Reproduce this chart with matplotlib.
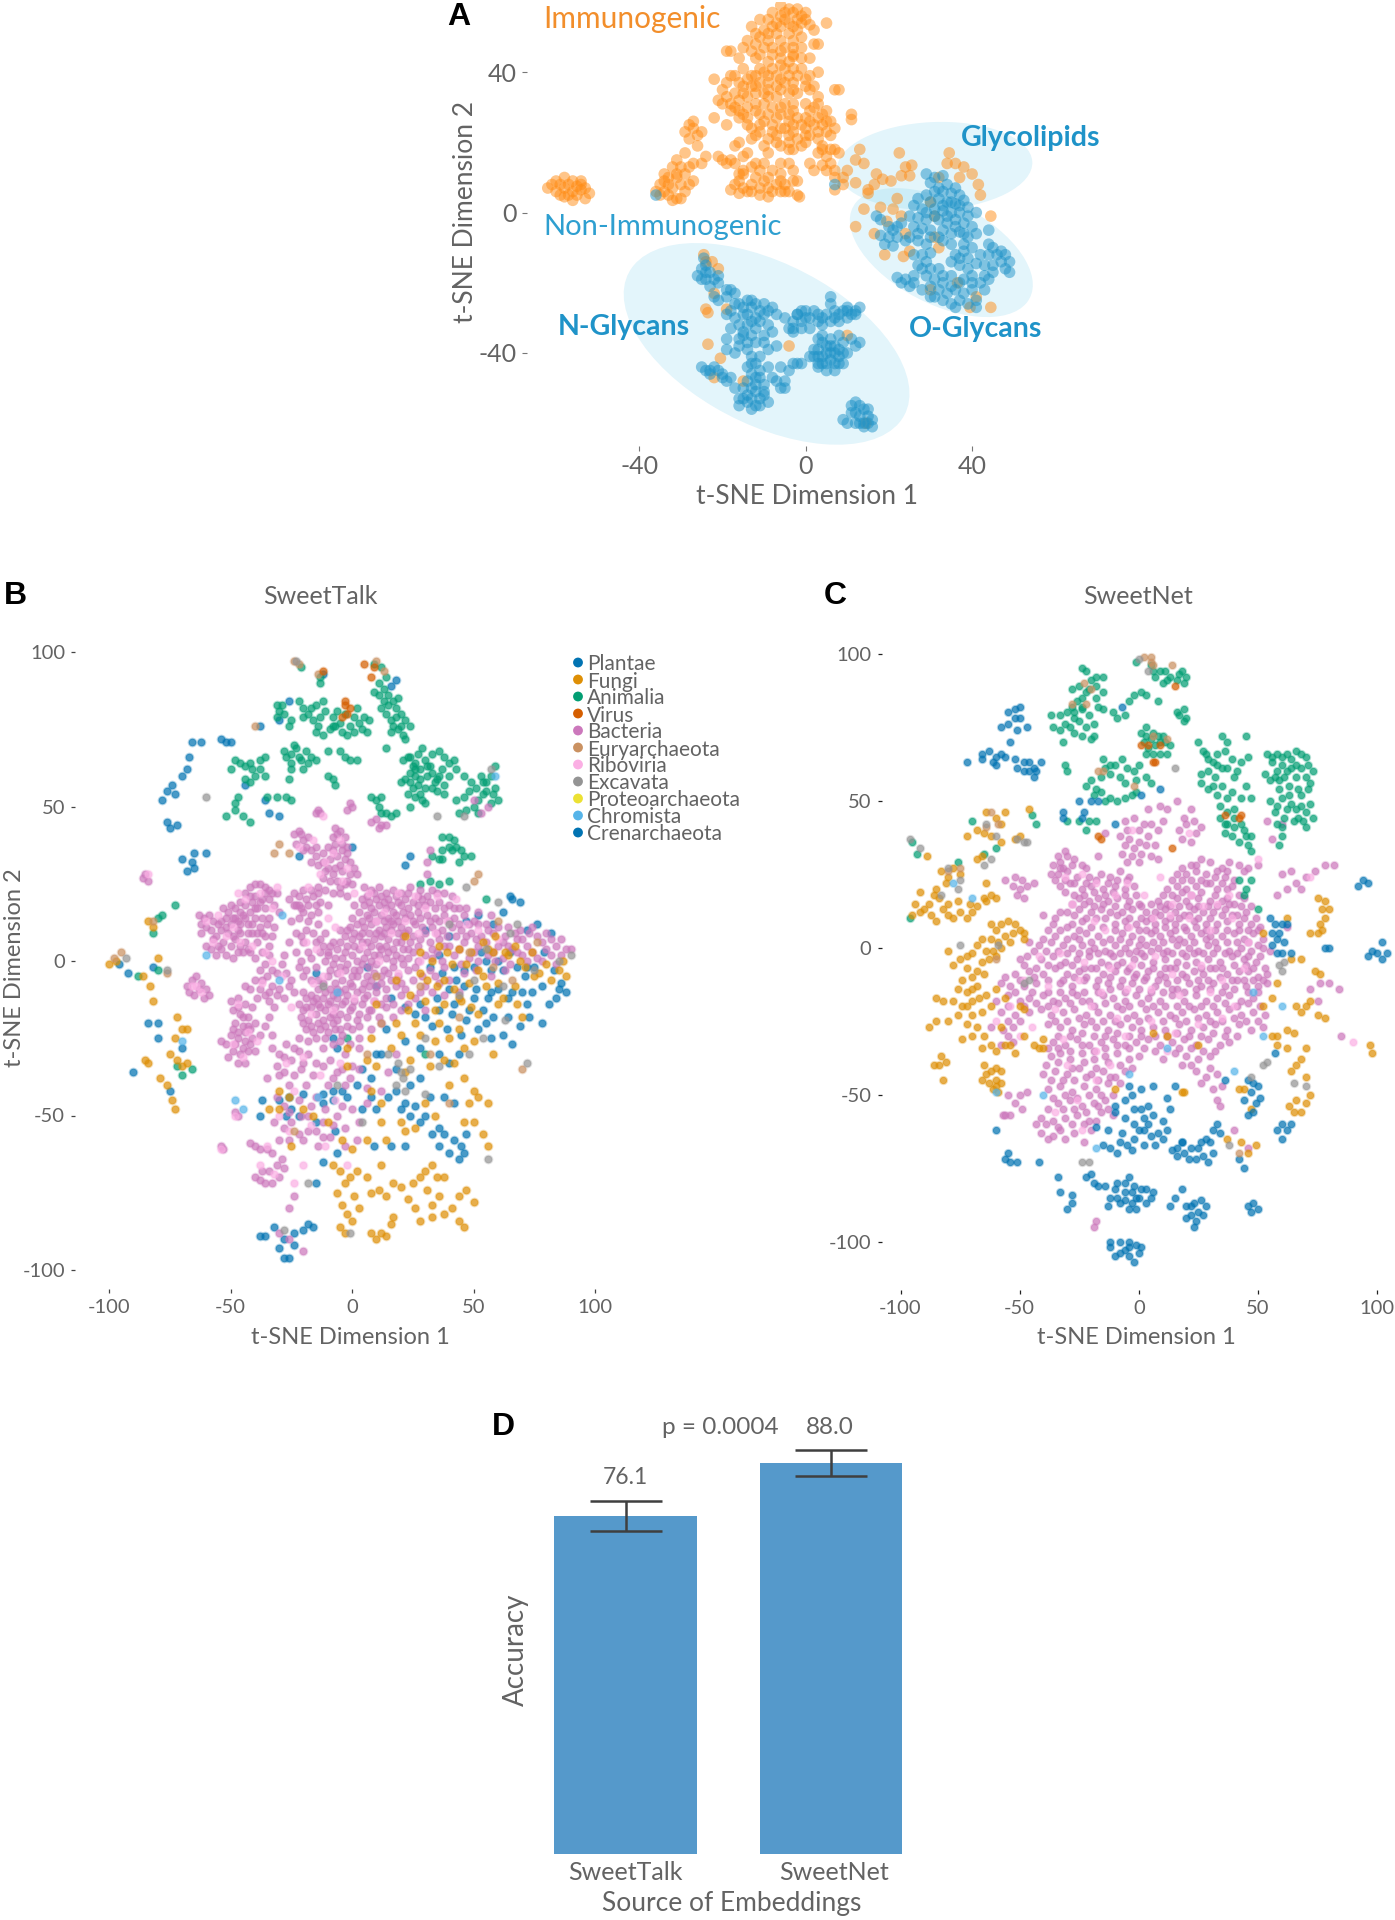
import matplotlib
matplotlib.use("Agg")
import matplotlib.pyplot as plt
from matplotlib.colors import to_rgba
from matplotlib.patches import Ellipse

W, H = 1395, 1920
plt.rcParams["font.family"] = ["Lato", "DejaVu Sans"]
plt.rcParams["axes.unicode_minus"] = False
GREY = "#636363"

# panel A
immuno_a = [(-62,7),(-60,9),(-60,6),(-58,10),(-58,7),(-58,4.5),(-56,9),(-56,6),(-56,3.5),(-54,9),(-54,6.5),(-53,4),(-52,5.5),(-59,5),(-55,7.5),(-57,8),
(-36,6),(-35,8),(-34,11),(-33,5),(-33,8),(-32,13),(-32,3.5),(-31,10),(-31,15),(-30,13),(-30,4),(-29,17),(-29,6),(-28,13),(-28,21),(-27,24),(-29,23),(-28,25),(-27,14),(-26,19),(-26,22),(-27,26),(-25,23),(-25,14),(-29,11),(-31,4),(-34,9),
(-6,59),(-8,57),(-4,58),(-3,57),(-1,56),(0,57),(-6,56),(-2,55),(-5,55),(-9,55),(-8,53),(-6,53),(-3,53),(-1,54),(0,55),(1,53.5),(-10,52),(-7,51),(-4,51),(-2,52),(2,52),(5,54),(-11,50),(-9,49),(-6,49),(-3,49),(-1,50),(-12,48),(-14,49),(-10,47),(-8,47),(-5,47),(-3,47),(-1,47),(2,48),(-13,46),(-11,45),(-8,45),(-6,44),(-12,44),(-3,44.5),(-1,44),(1,44),(-18,46),(-19,46),(3,48),
(-22,38),(-17,39),(-15,41),(-18,39),(-14,38),(-11,41),(-10,40),(-8,41),(-7,39),(-5,41),(-3,41),(-1,41),(3,40),(-20,35),(-19,33),(-17,34),(-15,36),(-13,36),(-11,37),(-9,37),(-7,36),(-5,37),(-3,37),(0,38),(2,36),(-21,32),(-18,31),(-16,32),(-14,33),(-12,34),(-10,34),(-7,33),(-4,34),(-2,34),(1,35),(3,33),(7,35),(8,35),(-18,29),(-16,29),(-14,30),(-12,31),(-10,31),(-8,30),(-5,31),(-3,31),(0,31),(2,30),(4,28),(-16,27),(-14,27),(-11,28),(-9,28),(-6,28),(-4,28),(-2,27),(0,27),(3,27),(5,29),(11,28),(11,26.5),(-22,27),(-19,25),(-13,24),(-11,25),(-8,25),(-6,24),(-3,25),(0,24),(2,25),(4,25),(6,26),(7,24),(-12,22),(-9,21),(-7,22),(-4,22),(-2,21),(1,22),(3,21),(5,23),(6,22),(-16,20),(-17,19),(-10,19),(-6,19),(-3,18),(0,20),(4,19),(-4,18),
(-15,16),(-14,17),(-9,17),(-10,14),(-11,12),(-13,13),(-15,12),(-16,11),(-8,12),(-6,14),(-4,14),(-3,12),(-6,11),(-9,10),(-12,10),(-16,9),(-15,7),(-13,8),(-11,7),(-9,7),(-7,8),(-5,8),(-3,9),(-18,6.5),(-16,5.5),(-14,6),(-11,5),(-9,4.5),(-6,6),(-5,6),(-2,5),(-2,9),(-1.5,4.5),
(-21,16),(-20,15),(-19,14),(-18,15),(-24,16),(-17,14),(1,14),(4,13.5),(5,16),(6,18),(7,18),(8,17),(4,18),(3,17),(6,14),(7,12),(7,10),(5,12),(2,12),
(13,18),(12,15),(14,14),(10,12),(9,10),(7,6.5),(9,8),(12,8.5),(15,6.5),(16.5,8),(18.5,9.5),(17,11),(20.5,9),(22.5,17),(23,10.5),(25,10.5),(24,13),(25.5,13.5),(34.5,17),(34,14),(36,14),(38,13),(40,11),(41.5,8),(42,5),(37,10),(32,10),(22,4),(15,5.5),
(14,1),(18,1.5),(21,1),(23,-1),(19.5,-2.5),(12,-4),(16.5,-6),(24,-6),(31,-1),(31,-7),(32,-10),(19,-12),(23.5,-12.5),(25,-11),(30,3),(44.5,-1),(36.5,-20),(30,-22),(41,-24),(39.5,-27),(44.5,-27),
(-24.5,-12),(-22.5,-14),(-21,-16),(-24,-14),(-22,-23),(-24,-27.5),(-23.5,-28.5),(-19,-27.5),(-23.5,-37.5),(-20.5,-41.5),(-22,-47),(-15,-48),(-4,-38),(10,-35),(14.5,-60),
(-13,53),(-11,55),(-12,51),(-7,54),(-4,54),(-2,58),(-5,57),(-9,51),(-6,46),(-3,45),(-15,47),(-16,44),(-9,43),(-6,42),(-4,43),(-2,39),(1,39),(-19,37),(-16,37),(-13,39),(-12,39),(-9,39),(-6,38),(-4,39),(-20,31),(-17,30),(-15,34),(-12,36),(-9,35),(-6,35),(-3,35),(0,36),(-15,28),(-12,29),(-9,33),(-6,30),(-3,29),(1,29),(3,31),(5,26),(-14,25),(-10,26),(-7,27),(-4,26),(-1,25),(1,26),(-11,23),(-8,23),(-5,24),(-3,23),(0,22),(3,23),(-7,20),(-4,20),(-1,19),(-13,21),(-15,11),(-12,14),(-10,9),(-8,6),(-6,9),(-4,6),(-13,6),(-17,8),(-27,9),(-28,8),(-33,10),(-32,7),(-35,5),(-30,8),(-34,6),(-31,11),(-59,8),(-55,5),(-61,8),(-57,5),(-54,8),(-53,7)]
nonimmuno_a = [(29,11),(31,10),(30,8.5),(33,10.5),(34,8),(36,7),(35,5.5),(33,6),(37,5),(31,6),(29,5),(27,4),(30,3),(32,4),(34,3),(36,2.5),(38,3.5),(39,1.5),(26,2),(28,1),(31,1),(33,0.5),(35,0),(37,0),(39,-1),(41,0),(25,-1),(27,-1.5),(29,-2),(32,-2),(34,-3),(36,-2),(38,-3),(40,-4),(23,-3),(26,-4),(28,-4.5),(30,-5),(33,-5),(35,-6),(37,-5.5),(39,-7),(41,-6),(44,-5),(18,-2),(20,-4),(17,-1),(21,-5),(18,-6.5),(20,-7),(22,-7),(19,-9),(21,-9.5),(24,-8),(27,-8),(29,-9),(33,-8),(35,-9),(38,-9),(40,-10),(44,-9),(45,-10),(28,-12),(30,-11.5),(26,-12),(36,-12),(38,-11),(42,-12),(44,-12),(46,-12),(48,-12),(47,-14),(49,-14),(27,-15),(28,-16),(30,-16),(32,-16),(37,-15),(39,-16),(41,-14.5),(43,-15),(45,-15),(48,-16),(49,-17),(22,-18.5),(23,-20),(24,-19),(25,-21),(26,-18),(29,-18),(31,-19),(33,-18),(35,-18),(38,-19),(40,-20),(42,-20),(44,-19),(30,-21),(32,-22),(34,-23),(36,-22),(38,-23),(40,-22),(43,-22),(31,-24),(33,-25),(37,-25),(39,-26),(41,-25),(35,-26),(7,8),(-36,5),
(32,7),(35,3),(37,2),(33,2),(29,0),(31,-1),(34,-1),(36,-4),(38,-6),(30,-7),(32,-7),(27,-6),(25,-7),(22,-4),(37,-13),(39,-13),(33,-20),(35,-21),(37,-20),(40,-18),(43,-18),(45,-17),(47,-11),(35,-14),(29,-14),(26,-20),(28,-22),(30,-24),(36,-27),(41,-27),
(-24.5,-13),(-24,-15),(-25,-16),(-26,-18),(-24,-19),(-23,-17),(-22,-19),(-21,-20),(-21,-18),(-25,-19),(-19,-22),(-18,-22),(-22,-24),(-17,-23),(-21,-25),(-19,-29),(-18,-28),(-16,-26),(-17,-30),(-15,-29),(-13,-25),(-13,-27),(-12,-26),(-11,-28),(-14,-29),(-12,-30),(-10,-29),(-9,-28),(-8,-27),(-7,-29),(-16,-32),(-14,-32),(-12,-33),(-9,-32),(-18,-33),(-15,-35),(-13,-35),(-10,-35),(-8,-34),(-19,-36),(-10,-37),(-9,-39),(-14,-39),(-19,-39),(-17,-40),(-16,-38),(-7,-38),(-13,-41),(-12,-43),(-14,-44),(-11,-45),(-13,-46),(-11,-47),(-14,-48),(-10,-49),
(-25,-44),(-24,-45),(-22,-44),(-21,-45),(-23,-46),(-20,-46),(-19,-48),(-18,-47),(-17,-50),(-15,-50),(-13,-50),(-12,-51),(-9,-44),(-8,-47),(-7,-48),(-6,-50),(-5,-48),(-5,-50),(-6,-44),(-3,-43),(-2,-43),(-1,-43),(-4,-45),(-15,-53),(-13,-53),(-11,-53),(-9,-54),(-10,-52),(-12,-55),(-16,-55),(-13,-56),
(-5,-30),(-4,-33),(-3,-31),(-2,-29),(-1,-28),(0,-28),(1,-30),(-3,-34),(-1,-33),(1,-33),(3,-31),(3,-29),(5,-29),(7,-28),(6,-24),(6,-26),(7,-30),(9,-28),(10,-30),(11,-29),(12,-28),(13,-27),(8,-31),(4,-32),(10,-27),
(3,-36),(4,-35),(6,-36),(8,-35),(3,-39),(5,-38),(7,-38),(9,-37),(2,-41),(3,-43),(4,-41),(6,-40),(8,-41),(5,-43),(7,-43),(9,-43),(1,-41),(10,-40),(11,-36),(13,-37),(12,-38),
(12,-54),(13,-55),(14,-56),(11,-57),(13,-58),(15,-58),(16,-59),(9,-59),(10,-60),(12,-60),(14,-61),(16,-61),(15,-60),
(4,-37),(6,-38),(8,-39),(5,-40),(7,-40),(3,-41),(9,-40),(2,-39),(4,-43),(6,-42),(8,-43),(5,-45),(7,-45),(3,-44),(-2,-29),(0,-30),(2,-28),(4,-30),(6,-31),(8,-29),(10,-28),(12,-29),(-3,-33),(-1,-31),(-15,-27),(-14,-25),(-10,-26),(-11,-31),(-13,-31),(-15,-34),(-12,-37),(-14,-37),(-16,-36),(-11,-41),(-13,-43),(-12,-47),(-14,-52),(-12,-49),(-16,-53),(-14,-54),(-11,-55),(-10,-51),(-23,-45),(-20,-47),(-24,-17),(-23,-21),(-19,-24),(-17,-26),(11,-55),(14,-60),(12,-57),(15,-56),(13,-60)]

# panel B
bacteria_b = [(-63,15),(-61,14),(-59,15),(-62,12),(-60,11),(-57,13),(-58,10),(-55,12),(-56,8),(-54,10),(-52,14),(-53,6),(-51,9),(-50,12),(-60,5),(-58,4),(-56,2),(-54,4),(-52,2),(-50,5),(-49,1),(-47,3),(-48,7),(-46,9),(-44,6),(-47,13),(-45,15),(-43,12),(-41,9),(-39,6),(-37,3),(-42,3),(-40,1),(-48,17),(-46,19),(-44,18),(-42,16),(-40,14),(-38,11),(-36,8),(-34,5),(-44,22),(-42,24),(-40,21),(-38,19),(-36,17),(-34,14),(-32,11),(-38,25),(-36,22),(-34,20),(-32,18),(-30,16),(-40,25),(-36,24),(-33,22),(-31,22),(-48,14),(-51,16),(-53,17),(-43,9),(-39,17),(-35,12),(-45,3),(-37,14),(-50,18),(-46,12),(-41,19),
(-24,41),(-22,42),(-23,38),(-20,39),(-18,40),(-20,36),(-17,36),(-15,34),(-17,32),(-14,31),(-12,35),(-10,37),(-8,40),(-7,43),(-5,42),(-3,40),(-7,38),(-4,36),(-2,37),(-9,33),(-6,34),(-3,33),(-1,32),(1,30),(-10,30),(-7,30),(-4,29),(-1,28),(2,28),(-12,27),(-9,26),(-6,26),(-3,25),(0,25),(-14,24),(-11,23),(-8,22),(-5,22),(-2,21),(-20,23),(-22,21),(-24,22),(-19,20),(-16,21),(-13,19),(-23,18),(-20,16),(-17,15),(-14,16),(-10,18),
(5,24),(8,23),(11,24),(14,22),(17,23),(20,22),(24,24),(28,23),(33,23),(38,22),(4,20),(7,19),(10,20),(13,19),(16,18),(19,19),(22,20),(25,19),(29,20),(32,19),(36,19),(40,18),(44,17),(3,16),(6,15),(9,16),(12,15),(15,14),(18,15),(21,16),(24,15),(27,16),(31,15),(34,14),(38,15),(42,14),(46,15),(50,13),(55,12),
(-1,11),(2,12),(5,11),(8,12),(11,10),(14,11),(17,12),(20,11),(23,10),(26,12),(29,11),(33,11),(37,10),(41,11),(45,10),(49,9),(53,8),(58,9),(63,8),(68,7),(73,9),(-3,8),(0,7),(3,8),(6,6),(9,7),(12,8),(15,7),(18,6),(21,8),(24,6),(28,7),(32,6),(36,7),(40,5),(46,6),(52,5),(60,5),(66,4),(72,5),(78,6),(84,5),(88,4),
(-6,4),(-3,3),(0,2),(3,4),(6,3),(9,2),(12,4),(15,3),(18,2),(21,4),(25,3),(30,2),(35,3),(42,2),(48,1),(56,2),(62,1),(70,2),(76,1),(82,2),(-8,-1),(-5,-2),(-2,-1),(1,-3),(4,-1),(7,-2),(10,-1),(13,-3),(17,-2),(21,-1),(26,-2),(32,-3),(38,-2),(-10,-5),(-7,-7),(-4,-6),(-1,-7),(2,-5),(5,-7),(8,-6),(12,-7),(16,-6),(20,-7),(25,-6),(30,-8),(36,-7),
(-20,-10),(-17,-11),(-14,-9),(-11,-10),(-8,-11),(-5,-10),(-2,-11),(2,-10),(6,-11),(10,-10),(14,-12),(20,-11),(26,-12),(-22,-14),(-19,-15),(-16,-13),(-13,-15),(-10,-14),(-7,-15),(-4,-14),(0,-15),(4,-14),(8,-16),(14,-15),(20,-16),(-21,-18),(-18,-19),(-15,-17),(-12,-19),(-9,-18),(-6,-19),(-2,-18),(2,-19),(6,-18),(-19,-22),(-16,-23),(-13,-22),(-10,-23),(-7,-22),(-4,-24),(0,-22),
(-26,20),(-24,18),(-22,14),(-21,17),(-18,13),(-19,10),(-16,9),(-14,12),(-13,7),(-11,9),(-9,5),(-21,8),(-23,3),(-21,0),(-19,-3),(-17,1),(-15,-2),(-13,3),(-11,0),(-25,-6),
(-40,-6),(-38,-3),(-36,-1),(-34,2),(-35,-5),(-33,-8),(-31,-4),(-29,-1),(-30,-9),(-28,-12),(-26,-8),(-38,-9),(-36,-11),(-34,-13),(-32,-15),(-42,-9),(-44,-8),
(-50,-13),(-47,-12),(-44,-14),(-49,-16),(-46,-17),(-43,-18),(-41,-15),(-48,-20),(-45,-21),(-42,-22),(-40,-20),(-50,-24),(-47,-25),(-44,-26),(-41,-25),(-52,-27),(-49,-29),(-46,-30),(-43,-29),(-54,-26),(-51,-31),(-47,-33),(-44,-33),(-40,-29),(-38,-24),(-36,-21),(-34,-18),(-33,-24),
(-33,-28),(-30,-30),(-27,-27),(-31,-34),(-28,-36),(-25,-32),(-22,-29),(-35,-38),(-26,-40),(-21,-35),(-18,-30),(-15,-33),(-19,-40),(-12,-28),(-9,-32),(-6,-36),(-3,-30),(0,-34),(3,-28),(6,-41),(-3,-40),(-10,-40),(-15,-44),(-22,-45),(-28,-47),(-32,-52),(-28,-54),(-25,-52),(-22,-56),(-18,-50),(-15,-55),(-12,-52),(-9,-57),(-6,-50),(-3,-54),(0,-48),(3,-52),(-20,-58),(-14,-60),(-30,-58),(-3,-60),(2,-58),(6,-46),(12,-42),(15,-36),(18,-30),
(-42,-59),(-40,-60),(-38,-61),(-35,-61),(-33,-62),(-40,-70),(-38,-71),(-36,-72),(-34,-68),(-31,-66),(-30,-70),(-37,-68),(-33,-72),(-28,-67),(-29,-64),
(-68,-8),(-66,-6),(-64,-5),(-62,-7),(-60,-9),(-67,-10),(-65,-11),(-63,-9),(-61,-12),(-59,-11),(-85,28),(-84,26),(-86,27),(-14,49),(-13,48),(-15,48),(-1,51),(0,50),(-2,49),(8,45),(10,46),(12,44),(11,43),(14,44),(-54,-60),(-53,-61),(-48,-49),(-47,-50),(32,36),(31,32),(31,28),(50,52),(53,48),(56,50),(-24,-76),(-26,-80),(-30,-88),(-26,-90),(-20,-94),
(6,21),(9,22),(12,21),(15,20),(18,21),(23,22),(27,21),(31,21),(35,22),(41,21),(1,18),(5,18),(8,17),(11,18),(14,17),(17,16),(20,18),(23,17),(27,18),(30,18),(34,17),(38,17),(42,17),(47,17),(52,16),(57,15),(0,14),(4,13),(7,14),(10,13),(13,13),(16,13),(19,13),(22,14),(25,13),(28,14),(32,13),(36,13),(40,13),(44,12),(48,12),(52,12),(56,10),(60,11),(64,11),(69,10),(74,11),(80,9),
(-5,10),(-2,10),(1,9),(4,9),(7,9),(10,9),(13,9),(16,10),(19,9),(22,9),(25,8),(30,9),(35,9),(39,8),(43,8),(47,8),(51,7),(55,6),(62,6),(67,9),(70,7),(76,8),(82,7),(86,7),(-8,6),(-5,6),(-2,5),(1,5),(4,6),(8,5),(11,5),(14,5),(17,4),(20,6),(23,4),(27,5),(33,4),(38,5),(44,4),(50,3),(58,3),(64,5),(68,3),(74,3),(80,4),(86,2),(90,4),
(-10,2),(-7,1),(-4,1),(2,0),(5,1),(8,0),(11,2),(14,1),(17,0),(20,1),(23,1),(27,0),(33,1),(37,0),(45,-1),(52,0),(59,0),(65,-1),(72,0),(78,0),(84,-1),(-9,-3),(-6,-4),(-3,-3),(0,-5),(3,-3),(6,-5),(9,-4),(12,-5),(15,-4),(19,-5),(23,-3),(29,-5),(34,-5),(40,-6),(46,-4),(51,-3),(57,-5),(63,-3),
(-12,-7),(-9,-9),(-6,-9),(-3,-9),(0,-8),(4,-9),(7,-8),(10,-8),(14,-9),(18,-8),(22,-9),(28,-10),(33,-10),(38,-11),(44,-10),(-19,-12),(-15,-12),(-12,-12),(-9,-13),(-6,-12),(-3,-13),(1,-13),(5,-12),(9,-13),(12,-14),(17,-14),(23,-14),(30,-16),(-20,-16),(-17,-15),(-14,-14),(-11,-16),(-8,-17),(-5,-17),(-1,-16),(3,-17),(7,-16),(11,-18),(17,-18),
(-20,-20),(-17,-21),(-14,-20),(-11,-21),(-8,-20),(-5,-22),(-2,-21),(3,-21),(8,-22),(12,-20),(-22,-25),(-18,-26),(-15,-25),(-11,-25),(-8,-27),(-5,-26),(-1,-27),(3,-25),(-25,13),(-23,9),(-20,6),(-18,3),(-15,6),(-12,5),(-10,3),(-22,-2),(-20,-5),(-17,-6),(-14,-6),(-24,-10),(-27,-4),(-28,2),(-26,6),
(-62,9),(-57,7),(-54,13),(-49,8),(-46,5),(-43,4),(-41,12),(-39,9),(-37,9),(-33,8),(-47,10),(-44,14),(-40,17),(-37,20),(-34,23),(-42,21),(-46,16),(-52,11),(-55,5),(-49,14),(-21,41),(-19,37),(-15,37),(-12,32),(-8,36),(-6,41),(-4,38),(-5,31),(-2,35),(-8,28),(-11,29),(-5,24),(-2,26),(-17,23),(-14,22),(-22,18),(-18,18),(-15,18),
(-47,-15),(-45,-18),(-43,-21),(-47,-23),(-49,-22),(-44,-23),(-42,-27),(-48,-27),(-45,-28),(-37,-6),(-34,-10),(-31,-11),(-33,-3),(-39,-12),(-28,-31),(-24,-28),(-30,-37),(-24,-37),(-20,-33),(-16,-37),(-12,-34),(-8,-38),(-4,-35),(-1,-38),(3,-35),(-31,-44),(-26,-49),(-21,-50),(-17,-47),(-11,-48),(-4,-47),(-26,-58),(-18,-55),(-12,-57),(-8,-53)]
riboviria_b = [(-60,13),(-55,15),(-49,11),(-44,20),(-38,22),(-33,17),(-52,8),(-46,6),(-41,5),(-36,3),(-31,24),(-47,22),(-57,6),(-22,37),(-16,39),(-11,32),(-5,39),(-8,35),(-2,30),(-13,28),(-18,24),(-4,26),(1,22),(7,22),(13,16),(19,22),(26,21),(30,17),(35,21),(43,20),(10,13),(16,9),(22,13),(27,9),(34,9),(39,13),(47,12),(52,10),(60,7),(-7,11),(-10,14),(-15,4),(-19,6),(4,5),(11,0),(19,-4),(28,0),(-5,-4),(-12,-5),(-16,-7),(-8,-16),(-17,-17),(1,-12),(9,-13),(-25,-15),(-29,-5),(-37,-7),(-33,0),(-47,-14),(-43,-23),(-49,-27),(-45,-31),(-39,-26),(-27,-33),(-20,-31),(-13,-37),(-5,-33),(-24,-42),(-30,-50),(-17,-53),(-7,-45),(-38,-66),(-32,-69),(-35,-60),(-64,-8),(-62,-10),(-66,-8),(-84,28),(-12,47),(-48,-50),(-54,-61),(-26,-55),(-11,-60),(-2,-66),(-20,-66),(-24,-72)]
fungi_b = [(33,0),(39,3),(44,4),(49,3),(54,6),(58,3),(64,2),(69,0),(74,3),(80,-1),(85,-3),(88,-5),(28,-4),(35,-8),(42,-9),(48,-7),(54,-5),(60,-7),(67,-8),(75,-5),(24,-11),(30,-13),(38,-14),(45,-13),(52,-17),(60,-14),(70,-18),(18,-20),(26,-20),(36,-20),(44,-22),(50,-26),(58,-30),(16,-28),(24,-32),(32,-34),(40,-40),(42,-33),(46,-38),(50,-42),(52,-44),(56,-46),(46,-52),(50,-52),(54,-56),(56,-60),(-30,-42),(-34,-48),(-25,-60),(-2,-28),(8,-25),(12,-52),(14,-58),(22,-55),
(-8,-66),(-5,-68),(-3,-72),(-1,-70),(2,-68),(-6,-75),(-4,-79),(-2,-82),(1,-76),(3,-80),(0,-84),(-5,-86),(-3,-88),(6,-70),(8,-75),(11,-74),(14,-76),(17,-72),(20,-73),(23,-77),(25,-72),(28,-70),(30,-68),(33,-66),(35,-70),(31,-74),(33,-79),(26,-80),(28,-84),(33,-83),(36,-76),(38,-70),(41,-80),(44,-76),(47,-74),(50,-78),(44,-84),(46,-86),(38,-82),(8,-88),(10,-90),(12,-88),(14,-89),(17,-83),(16,-85),(-4,-58),(0,-61),(6,-58),(12,-66),(-16,-50),
(-86,-5),(-83,-8),(-82,-13),(-84,-33),(-79,-38),(-75,-30),(-72,-32),(-70,-34),(-68,-33),(-72,-18),(-70,-22),(-73,-25),(-68,-22),(-76,-40),(-74,-45),(-73,-48),(-82,11),(-84,13),(-80,1),(-97,0),(-100,-1),(-85,-32),
(36,5),(41,-1),(47,-1),(52,-3),(56,4),(59,8),(63,3),(67,5),(71,-2),(77,-4),(82,-6),(87,0),(31,-6),(38,-6),(44,-12),(49,-15),(55,-8),(62,-12),(68,-14),(23,-16),(34,-16),(40,-25),(46,-28),(28,-24),(20,-24),(34,-26),(38,-32),(22,-36),(10,-34),(6,-32),(-2,-34),(8,-42),(12,-46),(20,-52),(26,-54),(30,-46),(34,-50),(48,-46),(-10,-52),(-20,-48),(-30,-48),(-26,-44),(22,8),(28,3),(18,-6),(10,-14)]
plantae_b = [(30,10),(40,8),(47,13),(52,15),(58,12),(62,16),(66,20),(69,19),(65,21),(72,10),(76,12),(82,9),(55,0),(62,-3),(72,-2),(78,-8),(84,-12),(88,-10),(37,-4),(43,-6),(50,-12),(57,-10),(64,-12),(72,-14),(78,-20),(-15,-4),(6,-2),(10,-8),(16,-12),(22,-15),(30,-18),(36,-16),(41,-17),(47,-19),(55,-20),(62,-24),(66,-27),(-8,-25),(-6,-28),(4,-35),(8,-38),(12,-30),(18,-35),(24,-40),(28,-38),(32,-44),(38,-44),(42,-46),(-26,-44),(-37,-45),(-30,-45),(-38,-50),(-27,-50),(-12,-46),(-8,-45),(-2,-44),(4,-48),(10,-48),(20,-48),(24,-50),(28,-52),(36,-54),(38,-56),(42,-58),(45,-60),(47,-56),(46,-62),(-7,-55),(-12,-65),(-15,-72),(-38,-89),(-36,-89),(-32,-86),(-28,-90),(-24,-88),(-20,-87),(-18,-85),(-16,-86),(-30,-93),(-28,-96),(-26,-96),(-24,-92),
(-62,71),(-66,71),(-67,66),(-68,62),(-70,60),(-74,57),(-76,55),(-73,54),(-78,52),(-76,45),(-75,43),(-72,44),(-70,33),(-66,32),(-65,35),(-60,35),(-68,29),(-65,30),(-52,71),(-54,72),(-50,71),(-44,57),(-36,52),(-34,48),(-30,47),(-12,93),(16,89),(18,91),(-38,76),(-30,78),(-26,84),(-22,34),(0,37),(22,31),(24,34),(-96,-1),(-92,-4),(-82,-2),(-80,-20),(-80,-25),(-84,-20),(-70,-28),(-90,-36),(-75,-42),
(32,-2),(36,2),(42,-2),(46,-3),(50,-2),(53,3),(57,-3),(60,0),(65,3),(68,-2),(71,-5),(75,-2),(79,3),(83,-3),(86,-7),(40,-9),(46,-8),(51,-9),(56,-12),(60,-9),(66,-10),(70,-10),(74,-10),(81,-14),(85,-9),(35,-12),(42,-14),(48,-16),(54,-16),(58,-18),(64,-18),(69,-21),(73,-18),(28,-14),(33,-21),(39,-22),(45,-24),(52,-22),(57,-25),(26,-17),(14,-22),(10,-30),(22,-26),(28,-28),(36,-30),(40,-33),(44,-30),(2,-40),(-4,-42),(-8,-42),(-12,-43),(8,-44),(15,-44),(18,-42),(22,-46),(-20,-43),(-25,-48),(-22,-50),(-15,-52),(26,-47),(30,-50),(33,-56),(36,-60),(40,-62),(44,-64),(22,-60),(16,-60),(-6,-62),(9,-60)]
animalia_b = [(-31,83),(-30,81),(-28,80),(-31,79),(-25,78),(-22,84),(-20,82),(-18,80),(-15,83),(-16,78),(-13,79),(-11,81),(-8,79),(-6,81),(-5,77),(-3,80),(-1,76),(1,79),(3,77),(4,75),(-2,73),(1,74),(5,79),(7,78),(-14,76),(-15,74),(-12,73),(-9,75),(-7,76),(-28,68),(-25,67),(-23,69),(-21,65),(-19,68),(-17,66),(-15,65),(-25,64),(-27,66),(-20,62),(-5,68),(-3,66),(-1,65),(2,65),(-10,68),(-36,66),(-38,65),(-41,62),(-42,64),(-44,63),(-46,64),(-38,62),(-36,60),(-42,58),(-48,65),(-50,62),(-25,62),(-26,59),(-10,60),(-8,59),(-7,57),
(9,87),(11,86),(13,84),(15,83),(17,84),(19,85),(12,82),(14,80),(16,78),(18,79),(20,80),(22,78),(17,76),(19,75),(21,73),(24,76),(11,90),(9,96),(12,95),(14,92),(22,72),(14,69),
(21,65),(23,66),(25,63),(24,61),(22,59),(20,58),(26,60),(28,62),(30,65),(32,63),(29,69),(27,67),(31,60),(33,61),(35,59),(27,57),(25,56),(23,54),(26,53),(28,54),(30,56),(33,56),(35,55),(37,62),(38,66),(40,64),(42,65),(36,68),(38,57),(30,51),(24,50),(46,53),(48,55),(50,50),(44,48),(49,58),(51,56),(53,60),(55,58),(57,60),(59,63),(59,56),(60,52),(58,54),(54,54),(52,48),(43,52),(37,36),(40,40),(42,39),(41,36),(37,40),(43,37),(45,36),(33,34),(36,33),(46,34),(44,32),(49,34),(12,53),(8,53),(10,52),(11,50),(14,48),(16,47),(18,48),(12,48),(-45,47),(-42,45),(-48,49),(-52,47),(-47,53),(-48,51),(-35,53),(-31,53),(-27,53),(-25,52),(-13,90),(-13,92),(-21,95),(-80,14),(-82,9),(-73,18),(-78,15),(-80,-3),(-88,-5),(-72,-34),(-66,-35),(-70,-37),(28,25),(32,26),(36,25),(40,26),(-2,-25),(30,-30),(55,20),
(-29,83),(-26,76),(-20,79),(-17,82),(-12,84),(-8,76),(-4,74),(2,82),(6,74),(-22,66),(-18,64),(-24,70),(13,88),(15,86),(18,82),(20,76),(16,74),(26,62),(24,58),(28,59),(31,63),(34,58),(29,52),(36,60),(38,54),(26,64),(24,66),(33,67),(40,60),(43,62),(46,60),(47,49),(52,52),(55,55),(57,51),(54,58),(37,33),(40,37),(-40,60),(-44,59)]
virus_b = [(-3,83),(-1,82),(-2,80),(-4,79),(-3,84),(-12,94),(5,96),(9,95),(8,92)]
eury_b = [(-24,97),(-22,96),(-14,93),(10,97),(13,94),(-40,76),(-26,35),(-30,38),(-32,35),(50,26),(52,28),(-82,13),(-76,-4),(-95,3),(-98,1),(70,-35),(-24,-55),(48,3),(58,-2),(66,-6),(44,-18),(32,-30),(12,-20),(60,13),(76,6),(28,-8),(6,-30),(40,-46),(10,-5)]
excavata_b = [(-23,97),(46,47),(35,47),(57,62),(47,24),(60,19),(-60,53),(-76,-3),(-93,1),(85,0),(90,2),(72,-33),(22,-42),(21,-38),(56,-64),(-1,-88),(4,-52),(-18,-72),(-12,-8),(30,-43),(44,-11),(63,-19),(-28,-87),(40,12),(55,4),(65,9),(75,-3),(30,-25),(36,-34),(15,-30),(18,-40),(24,-35),(54,-25),(62,-8),(48,-30),(19,-33),(20,-36),(-6,-40),(68,12),(50,-6)]
chromista_b = [(-29,15),(59,60),(-48,-45),(-30,-6),(-14,-44),(-70,-26),(-60,2),(-6,-10),(-45,-48)]

# panel C
bacteria_c = [(-36,28),(-33,29),(-30,31),(-27,30),(-22,27),(22,28),(26,30),(30,29),(35,27),(38,29),(42,28),(46,27),(50,28),(-37,25),(-34,25),(-30,26),(-26,24),(-21,24),(-16,25),(-12,24),(-8,26),(-4,24),(16,25),(20,25),(24,26),(28,25),(32,24),(36,24),(40,23),(-56,23),(-52,24),(-49,23),(-33,21),(-29,22),(-24,20),(-20,21),(-15,20),(-10,21),(-6,20),(-2,21),(12,20),(16,21),(20,20),(24,21),(28,22),(33,20),(37,20),(-53,21),(-50,20),(-47,21),(-44,22),
(-25,17),(-21,16),(-17,17),(-13,16),(-9,17),(-4,16),(0,15),(8,16),(12,15),(16,17),(20,16),(25,17),(30,16),(35,16),(40,15),(44,17),(-48,17),(-51,18),(-30,12),(-25,13),(-20,12),(-16,13),(-12,12),(-7,12),(-3,13),(3,12),(7,12),(11,13),(15,12),(19,11),(23,13),(27,12),(31,12),(36,13),(41,11),(45,12),(-40,11),(-35,10),(-28,8),(-24,9),(-10,8),(-6,9),(-1,8),(3,9),(7,8),(11,9),(15,8),(19,7),(23,9),(28,8),(33,8),(37,9),(42,8),(47,8),(51,7),
(-38,6),(-33,6),(-27,4),(-22,5),(-17,4),(-12,3),(-7,5),(-3,4),(1,3),(5,5),(9,4),(13,5),(17,3),(22,4),(26,5),(30,4),(35,4),(40,5),(44,3),(48,5),(52,3),(-46,2),(-42,1),(-37,2),(-32,1),(-28,0),(-24,1),(-19,0),(-14,-1),(-10,1),(-6,0),(-1,-1),(3,1),(8,0),(12,-1),(16,1),(21,0),(25,-1),(29,1),(33,0),(38,-1),(43,0),(47,-1),(52,0),(55,-1),
(-50,-4),(-47,-3),(-41,-4),(-36,-3),(-31,-5),(-26,-4),(-21,-3),(-16,-5),(-11,-3),(-7,-5),(-2,-4),(2,-3),(6,-5),(11,-4),(16,-5),(20,-3),(24,-5),(29,-4),(34,-5),(39,-3),(44,-4),(49,-5),(-52,-9),(-46,-8),(-40,-9),(-35,-7),(-30,-9),(-25,-8),(-20,-7),(-15,-9),(-10,-8),(-5,-8),(-1,-9),(4,-8),(9,-9),(13,-7),(18,-9),(23,-8),(27,-9),(32,-7),(37,-9),(42,-8),(46,-8),(50,-10),(54,-9),
(-58,-12),(-54,-13),(-48,-13),(-43,-12),(-33,-12),(-28,-13),(-23,-11),(-18,-13),(-13,-12),(-8,-13),(-3,-12),(2,-11),(7,-13),(12,-12),(16,-14),(21,-12),(26,-13),(31,-12),(36,-13),(41,-11),(45,-13),(50,-13),(54,-12),(-60,-18),(-55,-16),(-50,-18),(-46,-17),(-40,-16),(-36,-18),(-31,-17),(-26,-16),(-21,-18),(-15,-16),(-11,-17),(-6,-18),(-1,-16),(4,-17),(9,-18),(14,-16),(19,-18),(24,-16),(28,-18),(33,-17),(38,-16),(43,-18),(48,-17),
(-58,-22),(-52,-23),(-46,-22),(-41,-21),(-37,-23),(-32,-22),(-27,-21),(-22,-23),(-17,-22),(-12,-23),(-7,-21),(-2,-23),(3,-21),(8,-22),(13,-23),(18,-22),(23,-21),(28,-23),(33,-22),(38,-21),(43,-23),(48,-22),(53,-23),(-62,-27),(-57,-28),(-53,-27),(-38,-26),(-33,-27),(-28,-28),(-23,-26),(-18,-27),(-13,-28),(-8,-26),(-3,-27),(1,-28),(6,-27),(11,-28),(17,-26),(22,-28),(27,-27),(32,-26),(37,-28),(42,-26),(47,-28),(52,-27),
(-58,-33),(-53,-32),(-36,-32),(-31,-33),(-26,-31),(-21,-33),(-16,-32),(-11,-31),(-6,-33),(-1,-32),(4,-31),(9,-33),(14,-32),(19,-31),(24,-33),(29,-31),(34,-33),(38,-32),(-37,-37),(-33,-36),(-29,-38),(-24,-36),(-19,-38),(-14,-37),(-9,-36),(-4,-38),(0,-37),(10,-38),(15,-36),(20,-37),(25,-38),(30,-37),(-40,-43),(-35,-42),(-30,-43),(-25,-41),(-20,-43),(-15,-42),(-10,-44),(-6,-42),(24,-42),(28,-44),(33,-43),
(-38,-48),(-33,-47),(-28,-49),(-23,-47),(-18,-48),(-13,-46),(31,-48),(35,-47),(-55,-50),(-50,-50),(-47,-49),(-34,-53),(-29,-52),(-24,-54),(-19,-53),(-14,-52),(33,-52),(34,-54),(-52,-53),(-49,-55),(-54,-57),(-57,-57),(-41,-58),(-36,-59),(-31,-58),(-26,-57),(-21,-59),(-16,-56),(-11,-57),(-41,-63),(-36,-64),(-31,-65),(-27,-63),(-23,-66),(-20,-62),
(-6,43),(-2,44),(2,42),(-8,38),(-4,37),(0,36),(4,38),(8,40),(-7,32),(-3,31),(1,32),(5,31),(8,30),(10,43),(17,40),(20,42),(23,43),(26,41),(18,37),(22,36),(12,47),(9,48),(4,47),(16,50),(22,47),(-14,39),(-17,31),(56,37),(60,42),(54,43),(62,20),(66,22),(70,24),(74,26),(78,28),(64,26),(60,25),(58,18),(68,20),(82,28),(85,-30),(72,-14),(76,-12),(80,-12),(84,-14),(75,-18),(62,7),(-18,-93),(-19,-95),(-56,-57),(40,-62),(46,-68),
(-32,27),(-28,28),(-24,28),(18,27),(24,28),(33,26),(37,26),(44,26),(-35,23),(-31,23),(-27,22),(-22,22),(-18,23),(-13,22),(-9,23),(-5,23),(14,23),(18,23),(22,23),(26,23),(30,22),(35,22),(39,21),(-31,19),(-27,18),(-23,18),(-19,19),(-14,18),(-11,19),(-6,18),(-1,18),(10,18),(14,18),(18,19),(22,18),(26,19),(32,18),(37,17),(42,18),
(-28,15),(-23,15),(-19,14),(-15,15),(-10,14),(-5,14),(1,14),(5,15),(9,14),(13,14),(17,14),(21,14),(25,14),(29,14),(33,14),(38,15),(43,14),(47,14),(-33,12),(-27,11),(-22,10),(-18,10),(-14,10),(-9,11),(-4,10),(1,10),(5,10),(9,11),(13,10),(17,10),(21,11),(25,10),(30,10),(35,11),(39,11),(44,10),(49,10),
(-36,8),(-30,7),(-25,6),(-20,7),(-15,7),(-10,6),(-5,7),(0,6),(3,6),(7,6),(11,7),(15,6),(20,6),(24,7),(28,6),(32,6),(37,6),(42,6),(46,6),(50,6),(-40,3),(-35,4),(-30,3),(-25,3),(-20,2),(-15,2),(-8,3),(-4,2),(0,1),(6,2),(10,2),(14,3),(19,2),(23,2),(28,3),(32,2),(37,2),(41,2),(46,2),(50,1),
(-44,-1),(-39,-1),(-34,-1),(-30,-2),(-25,-2),(-21,-1),(-17,-2),(-12,-2),(-8,-2),(-4,-2),(1,-2),(5,-1),(10,-2),(14,-2),(18,-2),(23,-2),(27,-2),(31,-2),(36,-2),(41,-2),(46,-3),(51,-3),(-48,-6),(-43,-7),(-38,-6),(-33,-6),(-28,-6),(-23,-7),(-18,-7),(-13,-6),(-9,-6),(-4,-7),(1,-6),(6,-7),(11,-7),(15,-7),(20,-6),(26,-7),(30,-7),(35,-7),(40,-6),(45,-6),(48,-7),(53,-7),
(-56,-10),(-50,-11),(-44,-10),(-38,-11),(-32,-11),(-27,-10),(-22,-10),(-17,-11),(-12,-10),(-7,-11),(-2,-10),(3,-10),(8,-11),(11,-10),(16,-11),(20,-10),(25,-11),(29,-11),(34,-10),(39,-11),(44,-11),(48,-11),(52,-11),(-52,-15),(-45,-15),(-38,-15),(-33,-15),(-28,-15),(-23,-15),(-17,-15),(-12,-14),(-6,-15),(0,-14),(5,-15),(10,-15),(14,-14),(19,-15),(24,-14),(30,-14),(35,-15),(40,-14),(46,-15),(50,-15),
(-55,-20),(-48,-20),(-43,-19),(-38,-20),(-34,-19),(-29,-19),(-24,-18),(-19,-20),(-14,-19),(-9,-20),(-4,-20),(1,-19),(6,-20),(11,-20),(16,-20),(21,-20),(26,-20),(31,-20),(36,-19),(41,-20),(46,-19),(51,-20),(-55,-25),(-50,-25),(-35,-25),(-30,-25),(-25,-24),(-20,-25),(-15,-25),(-10,-25),(-5,-24),(0,-25),(4,-24),(10,-25),(15,-24),(20,-25),(25,-24),(30,-25),(35,-25),(40,-24),(45,-25),(50,-25),
(-55,-30),(-34,-30),(-29,-30),(-24,-29),(-19,-30),(-14,-30),(-9,-29),(-4,-30),(1,-30),(7,-30),(12,-30),(16,-29),(21,-30),(26,-30),(31,-29),(36,-30),(41,-30),(-38,-34),(-34,-34),(-29,-35),(-24,-33),(-19,-35),(-14,-34),(-9,-33),(-4,-34),(2,-34),(7,-35),(17,-34),(22,-34),(27,-35),(32,-35),(-39,-40),(-34,-39),(-28,-41),(-23,-39),(-18,-41),(-13,-39),(-8,-40),(-3,-41),(18,-40),(22,-40),(30,-41),
(-37,-45),(-32,-45),(-27,-45),(-22,-44),(-17,-45),(-12,-44),(-8,-46),(26,-46),(-36,-51),(-31,-50),(-26,-51),(-21,-50),(-16,-50),(-11,-50),(-38,-55),(-32,-55),(-27,-55),(-22,-56),(-17,-54),(-13,-55),(-39,-60),(-34,-61),(-28,-60),(-23,-60),(-18,-59),(-43,-60),(-38,-65),(-33,-62),(-5,40),(0,40),(5,42),(-6,35),(-2,34),(3,35),(7,35),(-5,29),(0,29),(19,44),(24,39),(-34,31),(-31,33),(-33,27)]
riboviria_c = [(-31,24),(-24,25),(-18,22),(-10,18),(-5,22),(2,18),(9,24),(14,15),(22,18),(27,14),(33,15),(38,18),(-28,15),(-19,9),(-14,6),(-4,7),(6,10),(13,11),(21,10),(30,6),(39,10),(46,2),(-42,-3),(-33,-2),(-23,-5),(-12,-7),(-3,-6),(7,-3),(14,-9),(26,-6),(35,-11),(44,-7),(-48,-11),(-38,-13),(-25,-11),(-16,-15),(-5,-14),(5,-14),(17,-16),(30,-15),(40,-20),(-45,-27),(-35,-21),(-20,-20),(-9,-24),(5,-25),(15,-29),(25,-26),(35,-24),(-32,-31),(-18,-35),(-6,-30),(12,-35),(-30,-40),(-12,-40),(-26,-52),(-18,-45),(-35,-56),(-24,-62),(-60,-25),(-54,-20),(-50,-30),(50,30),(-3,40),(21,39),(72,24),(90,-32)]
fungi_c = [(-95,11),(-90,13),(-85,9),(-82,13),(-78,10),(-75,12),(-72,10),(-94,15),(-88,15),(-84,17),(-80,15),(-76,16),(-71,15),(-68,14),(-92,19),(-85,20),(-80,24),(-78,27),(-83,26),(-81,22),(-75,25),(-89,31),(-68,30),(-66,31),(-65,17),(-64,16),(-60,17),(-62,18),(-64,22),(-72,38),(-68,40),(-65,39),(-62,38),(-58,36),(-60,44),(-64,46),(-58,42),(-56,46),(-52,37),(-50,38),(-46,47),
(-60,6),(-58,8),(-55,9),(-52,8),(-50,6),(-48,5),(-62,3),(-59,2),(-56,4),(-53,5),(-66,3),(-68,1),(-64,-1),(-61,-1),(-58,0),(-70,-2),(-66,-5),(-63,-4),(-75,-4),(-80,-1),(-72,-7),(-78,-6),(-70,-10),(-74,-11),(-68,-13),(-72,-15),(-76,-14),(-85,-17),(-82,-18),(-78,-18),(-74,-20),(-70,-18),(-67,-17),(-64,-16),(-60,-14),(-56,-17),(-50,-20),(-48,-21),(-70,-23),(-76,-23),(-80,-25),(-88,-27),(-85,-25),(-72,-26),(-68,-27),(-65,-30),(-62,-33),(-60,-35),(-66,-34),(-54,-33),(-52,-36),(-48,-30),(-74,-31),(-81,-39),(-83,-37),(-86,-40),(-84,-40),(-82,-45),
(-66,-45),(-64,-43),(-62,-42),(-60,-41),(-58,-42),(-63,-46),(-60,-45),(-58,-46),(-61,-48),(-59,-49),
(75,17),(78,16),(77,13),(78,10),(76,8),(72,5),(75,5),(77,6),(80,13),(52,5),(62,10),(64,-4),(68,-4),(76,-9),(74,-8),(70,-20),(72,-18),(66,-20),(68,-22),(75,-23),(78,-24),(62,-28),(58,-30),(65,-29),(58,-33),(62,-34),(56,-30),(52,-20),(56,-17),(58,-12),(70,-34),(68,-38),(66,-40),(64,-42),(70,-44),(72,-50),(70,-53),(66,-52),(65,-56),(63,-54),(68,-56),(97,-33),(98,-36),(-44,-33),(-42,-34),(-40,-34),(-40,-31),(18,-49),(19,-49),(42,-48),(44,-48),(47,-55),(43,-66),(46,-70),(49,-67),(37,-65),(25,-33),(6,-29),(-10,-48),(12,-30),
(-92,12),(-87,11),(-80,11),(-70,12),(-86,18),(-60,-3),(-72,-3),(-68,-8),(-65,-9),(-70,-14),(-66,-22),(-62,-20),(-58,-27),(-56,-33),(-70,-30),(-48,3),(-54,2),(-62,8),(-72,-20),(-65,-40),(-60,-47)]
plantae_c = [(-52,81),(-50,82),(-52,78),(-55,76),(-51,74),(-47,75),(-58,75),(-54,70),(-72,63),(-66,64),(-60,65),(-58,66),(-61,63),(-56,65),(-52,64),(-51,61),(-46,63),(-44,61),(-43,60),(-44,58),(-41,63),(-48,60),(-32,46),(-32,44),(-25,50),(-23,46),(-24,44),(-20,50),(-17,50),(-7,82),(1,52),(9,54),(94,23),(92,21),(96,22),(-10,42),
(55,10),(57,8),(60,8),(62,8),(56,5),(58,3),(61,2),(64,-2),(60,-2),(78,0),(80,0),(102,2),(100,-2),(98,-1),(102,-4),(104,-2),(96,-3),(-60,-62),(-55,-70),(-56,-72),(-54,-73),(-51,-73),(-42,-73),(-34,-78),(-33,-83),(-30,-89),(-28,-87),(-28,-84),(-22,-78),(-20,-77),(-19,-80),(-17,-81),(-14,-81),(-10,-82),(-12,-85),(-9,-85),(-6,-80),(-4,-78),(-3,-83),(-6,-86),(-3,-87),(0,-85),(3,-82),(3,-87),(-1,-89),(-4,-89),(5,-85),(-12,-68),(-15,-67),(-8,-66),(-5,-67),(-2,-65),(2,-67),(5,-64),(8,-63),(2,-58),(-2,-60),(6,-57),(10,-59),(-4,-47),(-3,-50),(1,-48),(6,-47),(-18,-61),(-13,-62),(-10,-56),(-6,-58),(-2,-55),(1,-55),(4,-54),(12,-51),(15,-47),(-10,-54),
(14,-69),(16,-71),(19,-70),(21,-72),(24,-72),(27,-71),(29,-73),(31,-70),(25,-68),(28,-65),(31,-62),(33,-60),(34,-63),(18,-66),(12,-62),(13,-55),(46,-45),(48,-46),(50,-47),(47,-49),(44,-52),(49,-53),(46,-57),(48,-56),(51,-51),(58,-62),(60,-60),(62,-62),(60,-65),(64,-60),(42,-72),(44,-75),(13,-88),(15,-85),(20,-88),(23,-87),(26,-86),(28,-88),(20,-92),(22,-91),(24,-93),(27,-91),(23,-95),(46,-88),(48,-87),(50,-89),(47,-90),(18,-82),(-4,-100),(-8,-100),(-12,-102),(-10,-105),(-6,-103),(-4,-105),(-2,-107),(0,-104),(-12,-100),(-1,-101),(1,-102),(58,-2),(57,-36),(36,-45),
(-55,80),(-50,78),(-66,66),(-63,67),(-60,62),(-48,63),(-46,60),(-13,-88),(-9,-80),(-8,-87),(-6,-83),(-2,-81),(-1,-85),(1,-82),(6,-83),(-7,-63),(-3,-69),(0,-62),(-9,-70),(2,-62),(7,-67),(10,-65),(16,-68),(22,-68),(26,-66),(30,-66),(22,-88),(25,-90),(18,-66),(4,-60),(-6,-52),(56,1),(59,5),(-4,-102),(-8,-104)]
animalia_c = [(-24,95),(-22,94),(-20,91),(-18,92),(-15,92),(-28,88),(-25,89),(-22,87),(-18,89),(-15,87),(-26,84),(-24,85),(-18,85),(-27,80),(-24,81),(-21,79),(-17,82),(-15,81),(-37,79),(-33,79),(-30,80),(-27,78),(-25,77),(-22,75),(-19,76),(-36,75),(-33,74),(-29,75),(-27,73),(-24,72),(-20,71),(-32,70),(-1,97),(5,96),(7,92),(9,94),(11,94),(13,92),(17,93),(20,92),(19,90),(10,90),(16,91),(1,87),(3,86),(8,84),(-4,84),(-2,86),(16,80),(19,81),(20,78),(19,77),(17,79),(-6,79),(-9,78),(-11,80),
(1,73),(3,72),(6,73),(8,72),(2,70),(4,68),(7,69),(9,70),(11,70),(13,69),(6,66),(9,66),(12,66),(-15,64),(-14,61),(-12,59),(-10,62),(-7,64),(-5,61),(-2,60),(0,62),(3,58),(5,56),(-20,57),(-22,55),(-18,54),(-16,53),(-12,51),(-9,50),(-6,51),(-3,52),(-1,53),(-30,43),(-25,43),(-21,43),(-18,43),(-30,60),(-31,62),
(25,70),(27,67),(35,72),(37,70),(45,72),(28,66),(31,63),(33,66),(36,67),(39,64),(43,63),(46,65),(29,60),(32,58),(35,61),(40,58),(26,56),(29,54),(33,52),(37,51),(43,51),(47,51),(34,48),(37,46),(40,47),(34,44),(37,42),(40,41),(43,42),(36,39),(39,38),(45,38),(42,36),(46,35),(47,33),(54,66),(58,66),(62,66),(66,67),(68,66),(56,63),(60,62),(64,61),(68,61),(71,62),(53,59),(57,58),(61,58),(66,58),(70,58),(73,60),(59,54),(63,55),(67,54),(71,54),(55,50),(60,51),(64,49),(68,48),(72,49),(57,46),(61,44),(65,43),(69,43),(73,44),(70,41),(58,42),(42,23),(45,20),(47,23),(44,18),(50,13),(59,35),(60,38),(-22,40),(-76,29),(-65,32),(-70,43),(-95,36),(-93,32),(-96,10),(-60,34),(-43,42),(-45,45),
(-21,88),(-24,82),(-31,76),(-28,82),(-19,72),(6,94),(12,91),(18,94),(3,75),(5,71),(10,72),(3,66),(-12,62),(-8,58),(-16,58),(-19,52),(-14,50),(-6,56),(-1,57),(29,64),(33,62),(37,61),(41,60),(26,59),(31,55),(35,55),(39,53),(45,55),(36,42),(40,44),(44,40),(47,38),(56,65),(60,65),(64,64),(58,60),(62,60),(66,62),(70,65),(55,57),(59,57),(63,52),(68,52),(72,56),(58,48),(62,47),(66,47),(70,46),(60,41),(67,44)]
virus_c = [(15,89),(4,69),(6,63),(7,63),(1,69),(9,69),(-17,38),(-16,37),(14,34),(43,45),(36,45),(42,44)]
eury_c = [(5,99),(2,99),(5,97),(6,96),(-20,88),(-22,83),(-23,90),(6,72),(12,71),(-17,60),(-15,60),(-2,55),(14,96),(-75,27),(-80,26),(-64,41),(-62,46),(-59,42),(42,-70),(-28,83),(-60,-4)]
excavata_c = [(0,98),(4,94),(15,61),(-80,27),(-75,23),(-64,42),(-60,38),(-62,30),(-48,36),(-51,37),(-65,28),(-47,36),(-83,18),(-96,37),(-92,34),(-76,20),(-46,-11),(-48,-12),(61,-5),(59,-6),(60,-8),(-21,-73),(-24,-73),(47,-44),(52,-40),(54,-39),(65,-46),(70,-47),(38,-67),(-59,1),(-75,1)]
chromista_c = [(-78,22),(-70,17),(-40,-50),(-60,-49),(40,-42),(48,-15),(52,-30),(60,-20),(-4,-43),(-18,-68),(12,-34)]

# panel D
sources = ["SweetTalk", "SweetNet"]
accuracy = [76.1, 88.0]
accuracy_err = [3.4, 2.9]


def axes_px(fig, l, t, r, b, x0=None, sx=None, y0=None, sy=None):
    ax = fig.add_axes([l / W, 1 - b / H, (r - l) / W, (b - t) / H])
    ax.patch.set_alpha(0)
    for s in ax.spines.values():
        s.set_visible(False)
    if x0 is not None:
        ax.set_xlim((l - x0) / sx, (r - x0) / sx)
        ax.set_ylim((y0 - b) / sy, (y0 - t) / sy)
    return ax


def text_px(fig, x, y, s, **kw):
    kw.setdefault("ha", "center")
    kw.setdefault("va", "center")
    kw.setdefault("color", GREY)
    fig.text(x / W, 1 - y / H, s, **kw)


def dots(ax, pts, color, size, alpha=0.72):
    xs = [p[0] for p in pts]
    ys = [p[1] for p in pts]
    ax.scatter(xs, ys, s=size, facecolor=to_rgba(color, alpha),
               edgecolor=to_rgba(color, 0.28), linewidth=1.5, zorder=3)


fig = plt.figure(figsize=(W / 100, H / 100), dpi=100)

# A
ax = axes_px(fig, 526.5, 2, 1050, 446, 805.7, 4.16, 212.6, 3.51)
for xy, a, b, ang in [((-9.4, -37.4), 78, 44, -35), ((32.6, -11.4), 50, 28, -35), ((31, 13.3), 47, 25, 3)]:
    ax.add_patch(Ellipse(xy, a, b, angle=ang, facecolor="#73CDEB", alpha=0.2, edgecolor="none", zorder=1))
ax.scatter(*zip(*immuno_a), s=70, color="#FF8C14", alpha=0.5, edgecolor="none", zorder=3)
ax.scatter(*zip(*nonimmuno_a), s=70, color="#1F93C8", alpha=0.5, edgecolor="none", zorder=3)
ax.set_xticks([-40, 0, 40])
ax.set_yticks([-40, 0, 40])
ax.tick_params(labelsize=18, length=3.8, width=0.8, color="#777777", labelcolor=GREY, pad=3)
text_px(fig, 807, 496, "t-SNE Dimension 1", fontsize=19)
text_px(fig, 466, 212, "t-SNE Dimension 2", fontsize=19, rotation=90)
text_px(fig, 543, 19, "Immunogenic", fontsize=21.5, color="#F28E2B", ha="left")
text_px(fig, 543, 227, "Non-Immunogenic", fontsize=21, color="#2E9FD0", ha="left")
text_px(fig, 961, 138, "Glycolipids", fontsize=20.5, color="#1F93C8", ha="left", fontweight="bold")
text_px(fig, 558, 327, "N-Glycans", fontsize=20.5, color="#1F93C8", ha="left", fontweight="bold")
text_px(fig, 909, 329, "O-Glycans", fontsize=20.5, color="#1F93C8", ha="left", fontweight="bold")

# seaborn colorblind palette
PAL = {"Plantae": "#0173b2", "Fungi": "#de8f05", "Animalia": "#029e73", "Virus": "#d55e00",
       "Bacteria": "#cc78bc", "Euryarchaeota": "#ca9161", "Riboviria": "#fbafe4", "Excavata": "#949494",
       "Proteoarchaeota": "#ece133", "Chromista": "#56b4e9", "Crenarchaeota": "#0173b2"}

# B
ax = axes_px(fig, 75, 620, 760, 1289, 352, 2.43, 961, 3.09)
series_b = [(plantae_b, "Plantae"), (animalia_b, "Animalia"), (bacteria_b, "Bacteria"), (riboviria_b, "Riboviria"),
            (fungi_b, "Fungi"), (eury_b, "Euryarchaeota"), (excavata_b, "Excavata"),
            (virus_b, "Virus"), (chromista_b, "Chromista")]
for pts, name in series_b:
    dots(ax, pts, PAL[name], 30)
ax.set_xticks([-100, -50, 0, 50, 100])
ax.set_yticks([-100, -50, 0, 50, 100])
ax.tick_params(labelsize=14.5, length=3.2, width=0.9, color="#444444", labelcolor=GREY, pad=4)
# legend rows placed by hand, the built-in legend will not pack them this tight
leg = axes_px(fig, 570, 650, 760, 850)
leg.set_xlim(570, 760)
leg.set_ylim(850, 650)
leg.set_xticks([])
leg.set_yticks([])
for i, (name, c) in enumerate(PAL.items()):
    leg.scatter([578], [662.5 + 17 * i], s=50, color=c, edgecolor="none")
    leg.text(587, 662.5 + 17 * i, name, fontsize=15, color=GREY, va="center_baseline")
text_px(fig, 320, 596, "SweetTalk", fontsize=18)
text_px(fig, 350, 1338, "t-SNE Dimension 1", fontsize=17)
text_px(fig, 15, 968, "t-SNE Dimension 2", fontsize=17, rotation=90)

# C
ax = axes_px(fig, 881.6, 620, 1395, 1290, 1138.8, 2.383, 947.6, 2.94)
series_c = [(bacteria_c, "Bacteria"), (riboviria_c, "Riboviria"), (animalia_c, "Animalia"), (fungi_c, "Fungi"),
            (plantae_c, "Plantae"), (eury_c, "Euryarchaeota"), (excavata_c, "Excavata"),
            (virus_c, "Virus"), (chromista_c, "Chromista")]
for pts, name in series_c:
    dots(ax, pts, PAL[name], 27)
ax.set_xticks([-100, -50, 0, 50, 100])
ax.set_yticks([-100, -50, 0, 50, 100])
ax.tick_params(labelsize=14.5, length=3.2, width=0.9, color="#222222", labelcolor=GREY, pad=4)
text_px(fig, 1138, 596, "SweetNet", fontsize=18)
text_px(fig, 1136, 1338, "t-SNE Dimension 1", fontsize=17)

# D
ax = axes_px(fig, 500, 1400, 950, 1853.8)
sx = 205.5
ax.set_xlim((500 - 625.5) / sx, (950 - 625.5) / sx)
ax.set_ylim(0, (1853.8 - 1400) / 4.443)
ax.bar([0, 1], accuracy, width=0.695, color="#5599CB", zorder=2)
ax.errorbar([0, 1], accuracy, yerr=accuracy_err, fmt="none", ecolor="#3f3f3f", elinewidth=1.8,
            capsize=26, capthick=1.8, zorder=3)
ax.set_xticks([])
ax.set_yticks([])
text_px(fig, 625, 1872, sources[0], fontsize=18)
text_px(fig, 834, 1872, sources[1], fontsize=18)
text_px(fig, 732, 1903, "Source of Embeddings", fontsize=19)
text_px(fig, 516, 1650, "Accuracy", fontsize=20, rotation=90)
text_px(fig, 625, 1478, f"{accuracy[0]:.1f}", fontsize=16.5)
text_px(fig, 830, 1427, f"{accuracy[1]:.1f}", fontsize=17.5)
text_px(fig, 720, 1427, "p = 0.0004", fontsize=17.5)

# panel letters
for (x, y), letter in zip([(459, 17), (15, 596), (835, 596), (503, 1427)], "ABCD"):
    text_px(fig, x, y, letter, fontsize=23, fontweight="bold", color="black", family="Liberation Sans")

fig.savefig("out.png", dpi=100)
